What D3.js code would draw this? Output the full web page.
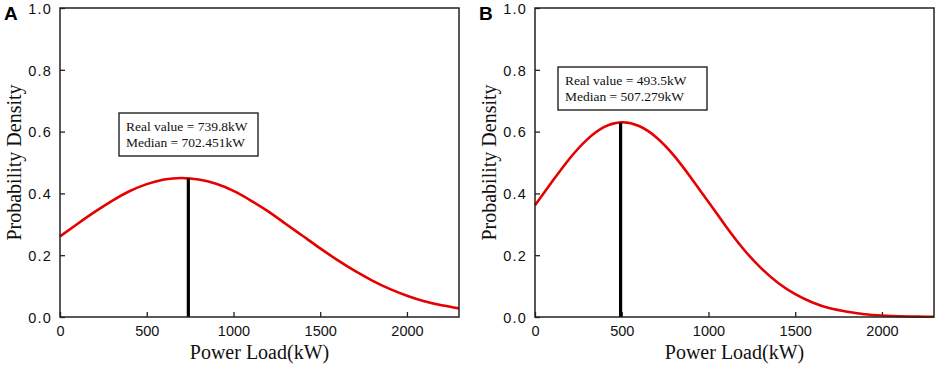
<!DOCTYPE html>
<html>
<head>
<meta charset="utf-8">
<script src="https://cdn.jsdelivr.net/npm/d3@7"></script>
<style>
  body { margin: 0; background: #fff; }
  svg { display: block; }
</style>
</head>
<body>
<svg id="chart" width="941" height="366"></svg>
<script>
// ---- Data ----
const loadKW = [0,100,200,300,400,500,600,700,800,900,1000,1100,1200,1300,1400,1500,1600,1700,1800,1900,2000,2100,2200,2300];
const densityA = [0.261,0.301,0.340,0.376,0.407,0.430,0.445,0.450,0.445,0.431,0.408,0.377,0.342,0.302,0.262,0.222,0.184,0.149,0.118,0.091,0.069,0.051,0.038,0.028];
const densityB = [0.362,0.439,0.513,0.574,0.615,0.630,0.618,0.581,0.523,0.450,0.372,0.294,0.221,0.160,0.111,0.074,0.047,0.028,0.017,0.009,0.005,0.0025,0.0012,0.0006];
const panelLetters = ["A", "B"];
const realValues = [739.8, 493.5];
const realLineTops = [0.449, 0.629];
const medians = [702.451, 507.279];
const yTickValues = [0, 0.2, 0.4, 0.6, 0.8, 1.0];
const xTickValues = [0, 500, 1000, 1500, 2000];
const xLabel = "Power Load(kW)";
const yLabel = "Probability Density";

const svg = d3.select("#chart");
const panels = [
  { letter: panelLetters[0], data: densityA, real: realValues[0], top: realLineTops[0], median: medians[0],
    left: 60, right: 459, box: { x: 119, y: 113, w: 139, h: 43 } },
  { letter: panelLetters[1], data: densityB, real: realValues[1], top: realLineTops[1], median: medians[1],
    left: 535, right: 934, box: { x: 558, y: 67, w: 149, h: 43 } }
];
const plotTop = 8, plotBottom = 317;
const frameColor = "#222";

panels.forEach(p => {
  const x = d3.scaleLinear().domain([0, 2300]).range([p.left, p.right]);
  const y = d3.scaleLinear().domain([0, 1]).range([plotBottom, plotTop]);
  const g = svg.append("g");

  // Axes (inward ticks)
  const xAxis = d3.axisBottom(x).tickValues(xTickValues).tickSizeInner(-5).tickSizeOuter(0).tickPadding(8).tickFormat(d3.format("d"));
  const yAxis = d3.axisLeft(y).tickValues(yTickValues).tickSizeInner(-5).tickSizeOuter(0).tickPadding(8).tickFormat(d3.format(".1f"));

  const gx = g.append("g").attr("transform", `translate(0,${plotBottom})`).call(xAxis);
  const gy = g.append("g").attr("transform", `translate(${p.left},0)`).call(yAxis);
  [gx, gy].forEach(a => {
    a.select(".domain").remove();
    a.selectAll(".tick line").attr("stroke", frameColor).attr("stroke-width", 1.3);
    a.selectAll(".tick text").attr("fill", "#111")
      .style("font-family", "'Liberation Sans', Arial, sans-serif").style("font-size", "14.5px");
  });
  gy.selectAll(".tick text").style("letter-spacing", "1.2px").attr("dy", "0.36em");
  gx.selectAll(".tick text").attr("dy", "0.78em");

  // Curve
  const line = d3.line()
    .x((d, i) => x(loadKW[i]))
    .y(d => y(d))
    .curve(d3.curveNatural);
  g.append("path").datum(p.data)
    .attr("d", line)
    .attr("fill", "none")
    .attr("stroke", "#e60000")
    .attr("stroke-width", 2.6);

  // Real value line
  g.append("line")
    .attr("x1", x(p.real)).attr("x2", x(p.real))
    .attr("y1", y(0)).attr("y2", y(p.top))
    .attr("stroke", "#000").attr("stroke-width", 3.2);

  // Frame
  g.append("rect")
    .attr("x", p.left).attr("y", plotTop)
    .attr("width", p.right - p.left).attr("height", plotBottom - plotTop)
    .attr("fill", "none").attr("stroke", frameColor).attr("stroke-width", 1.5);

  // Annotation box
  g.append("rect")
    .attr("x", p.box.x).attr("y", p.box.y).attr("width", p.box.w).attr("height", p.box.h)
    .attr("fill", "#fff").attr("stroke", "#222").attr("stroke-width", 1.4);
  const t = g.append("text")
    .attr("x", p.box.x + 7).attr("y", p.box.y + 18)
    .style("font-family", "'Liberation Serif', 'Times New Roman', serif")
    .style("font-size", "13.5px").attr("fill", "#111");
  t.append("tspan").attr("x", p.box.x + 7).text(`Real value = ${p.real}kW`);
  t.append("tspan").attr("x", p.box.x + 7).attr("dy", 16).text(`Median = ${p.median}kW`);

  // Axis titles
  g.append("text")
    .attr("x", (p.left + p.right) / 2).attr("y", 359)
    .attr("text-anchor", "middle")
    .style("font-family", "'Liberation Serif', 'Times New Roman', serif")
    .style("font-size", "20px").attr("fill", "#111")
    .text(xLabel);
  g.append("text")
    .attr("transform", `translate(${p.left - 39},${(plotTop + plotBottom) / 2}) rotate(-90)`)
    .attr("text-anchor", "middle")
    .style("font-family", "'Liberation Serif', 'Times New Roman', serif")
    .style("font-size", "20px").attr("fill", "#111")
    .text(yLabel);

  // Panel letter
  g.append("text")
    .attr("x", p.left - 56).attr("y", 20)
    .style("font-family", "'Liberation Sans', Arial, sans-serif")
    .style("font-size", "19px").style("font-weight", "bold").attr("fill", "#000")
    .text(p.letter);
});
</script>
</body>
</html>
